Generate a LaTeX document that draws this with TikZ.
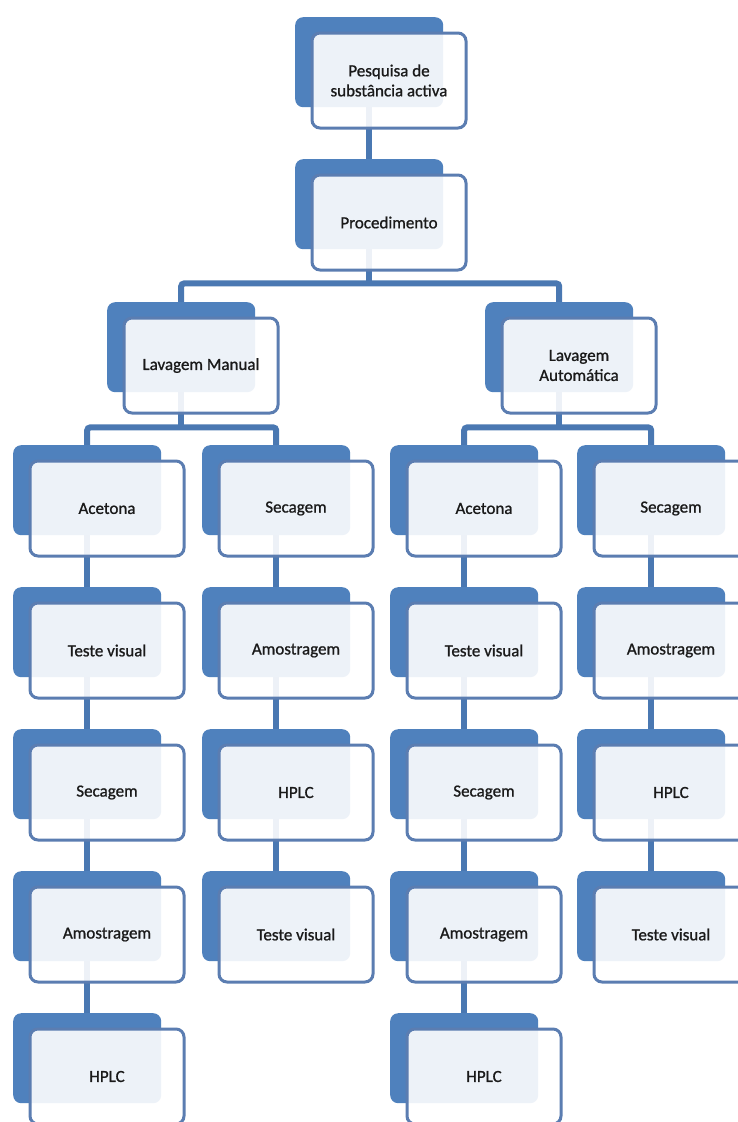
\documentclass[tikz,border=0pt]{standalone}
\usepackage{fontspec}
\setmainfont{Carlito}
\newfontfamily\boxfont[FakeBold=1]{Carlito}
\usetikzlibrary{backgrounds}
\definecolor{backblue}{HTML}{4F81BD}
\definecolor{edgeblue}{HTML}{5B7DB1}
\definecolor{linkblue}{HTML}{4A78B2}
\definecolor{txt}{HTML}{1A1A1A}
\tikzset{
  backbox/.style={anchor=north west, minimum width=148pt, minimum height=90pt,
    inner sep=0pt, rounded corners=8pt, fill=backblue},
  frontbox/.style={anchor=north west, minimum width=154pt, minimum height=95pt,
    inner sep=2pt, rounded corners=8pt, draw=edgeblue, line width=3pt,
    fill=white, fill opacity=0.9, text opacity=1, text=txt,
    font=\boxfont\fontsize{17}{20}\selectfont, align=center},
  link/.style={draw=linkblue, line width=6pt, rounded corners=3pt},
}
\newcommand{\stepnode}[4]{%
  \node[backbox] (#1) at (#2,#3) {};
  \node[frontbox] (#1-f) at (#2+15.5,#3+14.5) {#4};
}
\begin{document}
\begin{tikzpicture}[x=1pt,y=-1pt]
\useasboundingbox (0,0) rectangle (738,1122);
\clip (0,0) rectangle (738,1122);

\stepnode{top}{295}{17}{Pesquisa de\\substância activa}
\stepnode{proc}{295}{159}{Procedimento}
\stepnode{lm}{107}{302}{Lavagem Manual}
\stepnode{la}{485}{302}{Lavagem\\Automática}

\stepnode{a1}{13}{445}{Acetona}
\stepnode{a2}{13}{587}{Teste visual}
\stepnode{a3}{13}{729}{Secagem}
\stepnode{a4}{13}{871}{Amostragem}
\stepnode{a5}{13}{1013}{HPLC}

\stepnode{b1}{202}{445}{Secagem}
\stepnode{b2}{202}{587}{Amostragem}
\stepnode{b3}{202}{729}{HPLC}
\stepnode{b4}{202}{871}{Teste visual}

\stepnode{c1}{390}{445}{Acetona}
\stepnode{c2}{390}{587}{Teste visual}
\stepnode{c3}{390}{729}{Secagem}
\stepnode{c4}{390}{871}{Amostragem}
\stepnode{c5}{390}{1013}{HPLC}

\stepnode{d1}{577}{445}{Secagem}
\stepnode{d2}{577}{587}{Amostragem}
\stepnode{d3}{577}{729}{HPLC}
\stepnode{d4}{577}{871}{Teste visual}

\begin{scope}[on background layer]
  \fill[white] (0,0) rectangle (738,1122);
  \draw[link] (top.south) -- (proc.north);
  \coordinate (bus1) at ([yshift=-34pt]proc.south);
  \draw[link] (lm.north) |- (bus1) -| (la.north);
  \draw[link] (proc.south) -- (bus1);
  \coordinate (bus2) at ([yshift=-35pt]lm.south);
  \draw[link] (a1.north) |- (bus2) -| (b1.north);
  \draw[link] (lm.south) -- (bus2);
  \coordinate (bus3) at ([yshift=-35pt]la.south);
  \draw[link] (c1.north) |- (bus3) -| (d1.north);
  \draw[link] (la.south) -- (bus3);
  \draw[link] (a1.south) -- (a2.north);
  \draw[link] (a2.south) -- (a3.north);
  \draw[link] (a3.south) -- (a4.north);
  \draw[link] (a4.south) -- (a5.north);
  \draw[link] (b1.south) -- (b2.north);
  \draw[link] (b2.south) -- (b3.north);
  \draw[link] (b3.south) -- (b4.north);
  \draw[link] (c1.south) -- (c2.north);
  \draw[link] (c2.south) -- (c3.north);
  \draw[link] (c3.south) -- (c4.north);
  \draw[link] (c4.south) -- (c5.north);
  \draw[link] (d1.south) -- (d2.north);
  \draw[link] (d2.south) -- (d3.north);
  \draw[link] (d3.south) -- (d4.north);
\end{scope}
\end{tikzpicture}
\end{document}
